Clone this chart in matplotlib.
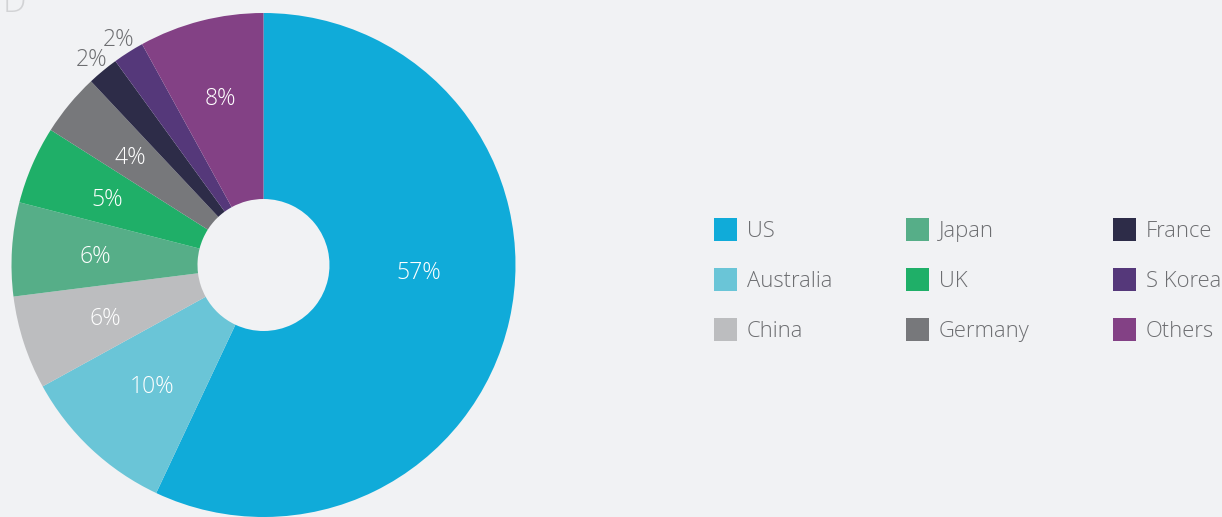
import matplotlib
matplotlib.use("Agg")
import matplotlib.pyplot as plt
from matplotlib.patches import Rectangle
import numpy as np

plt.rcParams['font.family'] = ['Open Sans', 'DejaVu Sans']
plt.rcParams['font.weight'] = 'light'

# Share of total by country (%)
categories = ["US", "Australia", "China", "Japan", "UK", "Germany", "France", "S Korea", "Others"]
values = [57, 10, 6, 6, 5, 4, 2, 2, 8]
colors = ["#10abd9", "#6ac5d7", "#bcbdbf", "#56ae88", "#1faf68", "#77787b",
          "#2d2c48", "#55387a", "#834185"]
labels = [f"{v}%" for v in values]

BG = "#f1f2f4"
TXT = "#6d6e71"

W, H = 1222, 517
cx, cy, R = 263.5, 265, 252  # pixel geometry of the donut

fig = plt.figure(figsize=(W / 100, H / 100), dpi=100, facecolor=BG)
ax = fig.add_axes([0, 0, 1, 1])
ax.set_facecolor(BG)
ax.axis('off')

inner = 66 / R
wedges, _ = ax.pie(values, colors=colors, startangle=90, counterclock=False,
                   radius=1.0, wedgeprops=dict(width=1 - inner, linewidth=0),
                   normalize=True)
ax.set_aspect('auto')
ax.set_xlim(-cx / R, (W - cx) / R)
ax.set_ylim(-(H - cy) / R, cy / R)

# Percentage labels: inside the ring for large slices, outside for small ones
total = sum(values)
cum = np.cumsum([0] + values[:-1])
for i, (v, lab) in enumerate(zip(values, labels)):
    mid = 90 - (cum[i] + v / 2) / total * 360
    ang = np.deg2rad(mid)
    if v <= 2:
        r, col = 270 / R, TXT
    else:
        r, col = (168 + 7 * np.sin(ang)) / R, "white"
    if i == 0:
        ang, r = np.deg2rad(-2.0), 155 / R
    # nudge down so the digits, not the text box, sit on the anchor point
    ax.text(r * np.cos(ang), r * np.sin(ang) - 3 / R, lab, color=col, fontsize=16.5,
            ha='center', va='center')

# Legend drawn as a 3x3 grid of swatches
def px(x, y):
    return (x - cx) / R, (cy - y) / R

col_x = [714, 906, 1113]
row_y = [218, 268, 318]
sq = 23
for i, (name, c) in enumerate(zip(categories, colors)):
    colm, row = divmod(i, 3)
    x0, y0 = col_x[colm], row_y[row]
    lx, ly = px(x0, y0 + sq)
    ax.add_patch(Rectangle((lx, ly), sq / R, sq / R, facecolor=c, edgecolor='none'))
    tx, ty = px(x0 + 33, y0 + 19)
    ax.text(tx, ty, name, color=TXT, fontsize=15.8, ha='left', va='baseline')

# Partially visible heading letter at the top-left corner
hx, hy = px(3, 12)
ax.text(hx, hy, "D", color="#d2d3d5", fontsize=24, ha='left', va='baseline')

fig.savefig("out.png", dpi=100, facecolor=BG)
